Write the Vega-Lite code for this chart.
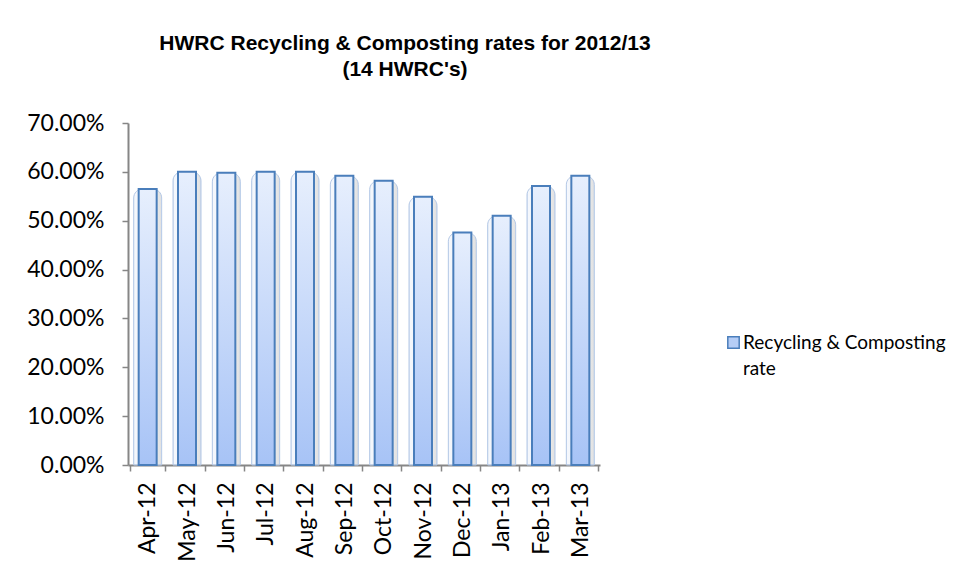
{
  "$schema": "https://vega.github.io/schema/vega-lite/v6.json",
  "width": 472,
  "height": 342,
  "autosize": {"type": "none"},
  "padding": {"left": 128, "top": 123, "right": 357, "bottom": 110},
  "background": "white",
  "title": {
    "text": ["HWRC Recycling & Composting rates for 2012/13", "(14 HWRC's)"],
    "font": "Liberation Sans",
    "fontSize": 21,
    "fontWeight": "bold",
    "color": "black",
    "anchor": "middle",
    "dx": 41,
    "offset": 32,
    "lineHeight": 26
  },
  "data": {
    "values": [
      {"month": "Apr-12", "rate": 0.565, "series": "Recycling & Composting rate"},
      {"month": "May-12", "rate": 0.600, "series": "Recycling & Composting rate"},
      {"month": "Jun-12", "rate": 0.598, "series": "Recycling & Composting rate"},
      {"month": "Jul-12", "rate": 0.600, "series": "Recycling & Composting rate"},
      {"month": "Aug-12", "rate": 0.600, "series": "Recycling & Composting rate"},
      {"month": "Sep-12", "rate": 0.592, "series": "Recycling & Composting rate"},
      {"month": "Oct-12", "rate": 0.582, "series": "Recycling & Composting rate"},
      {"month": "Nov-12", "rate": 0.549, "series": "Recycling & Composting rate"},
      {"month": "Dec-12", "rate": 0.476, "series": "Recycling & Composting rate"},
      {"month": "Jan-13", "rate": 0.510, "series": "Recycling & Composting rate"},
      {"month": "Feb-13", "rate": 0.571, "series": "Recycling & Composting rate"},
      {"month": "Mar-13", "rate": 0.592, "series": "Recycling & Composting rate"}
    ]
  },
  "encoding": {
    "x": {
      "field": "month",
      "type": "ordinal",
      "sort": null,
      "title": null,
      "axis": {
        "labelAngle": -90,
        "labelFont": "Lato",
        "labelFontSize": 23,
        "labelColor": "black",
        "labelPadding": 11,
        "domainColor": "#868686",
        "domainWidth": 2,
        "tickColor": "#868686",
        "tickWidth": 1.5,
        "tickSize": 6,
        "tickBand": "extent"
      }
    },
    "y": {
      "field": "rate",
      "type": "quantitative",
      "title": null,
      "scale": {"domain": [0, 0.7]},
      "axis": {
        "values": [0, 0.1, 0.2, 0.3, 0.4, 0.5, 0.6, 0.7],
        "format": ".2%",
        "grid": false,
        "labelFont": "Lato",
        "labelFontSize": 23,
        "labelColor": "black",
        "labelPadding": 18,
        "domainColor": "#868686",
        "domainWidth": 2,
        "tickColor": "#868686",
        "tickWidth": 1.5,
        "tickSize": 6
      }
    }
  },
  "layer": [
    {
      "mark": {
        "type": "bar",
        "size": 28,
        "cornerRadiusTopLeft": 9,
        "cornerRadiusTopRight": 9,
        "fill": {
          "x1": 0, "y1": 0, "x2": 1, "y2": 0,
          "gradient": "linear",
          "stops": [
            {"offset": 0, "color": "#f2f6fd"},
            {"offset": 0.7, "color": "#ececec"},
            {"offset": 1, "color": "#d6d6d6"}
          ]
        },
        "stroke": "#b4c8e6",
        "strokeWidth": 1,
        "opacity": 0.75
      }
    },
    {
      "mark": {
        "type": "bar",
        "size": 18,
        "fill": {
          "x1": 0, "y1": 0, "x2": 0, "y2": 1,
          "gradient": "linear",
          "stops": [
            {"offset": 0, "color": "#e7effd"},
            {"offset": 1, "color": "#a7c3f6"}
          ]
        },
        "stroke": "#4a7ebb",
        "strokeWidth": 2
      },
      "encoding": {
        "color": {
          "field": "series",
          "type": "nominal",
          "scale": {"range": ["#b5cdf6"]},
          "legend": {
            "title": null,
            "orient": "none",
            "legendX": 596,
            "legendY": 210,
            "symbolType": "square",
            "symbolSize": 130,
            "symbolStrokeColor": "#4a7ebb",
            "symbolStrokeWidth": 1.5,
            "symbolFillColor": "#b5cdf6",
            "labelFont": "Lato",
            "labelFontSize": 19,
            "labelColor": "black",
            "labelLimit": 300,
            "labelOffset": 0,
            "labelExpr": "['Recycling & Composting', 'rate']"
          }
        }
      }
    }
  ],
  "config": {
    "view": {"stroke": null},
    "style": {"guide-label": {"lineHeight": 26}}
  }
}
